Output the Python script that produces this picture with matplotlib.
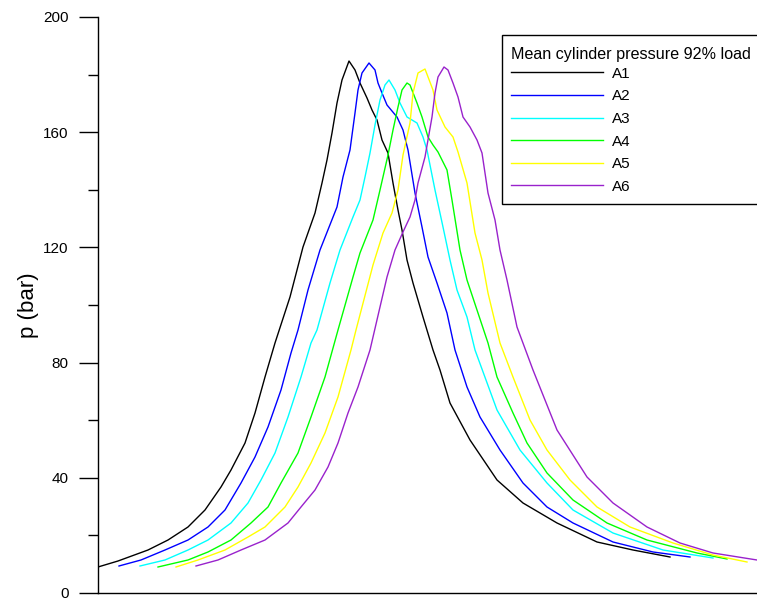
import matplotlib
matplotlib.use("Agg")
import matplotlib.pyplot as plt
from matplotlib.patches import Rectangle
from matplotlib.lines import Line2D

plt.rcParams['font.family'] = ['Liberation Sans', 'DejaVu Sans']

# Crank position (arbitrary units) and pressure (bar)
a1_x = [0, 20, 50, 70, 90, 107, 123, 133, 147, 157, 167, 177, 192, 205, 217, 224, 229, 234, 239, 244,
        251, 257, 262, 269, 274, 279, 284, 290, 295, 300, 304, 309, 315, 325, 335, 342, 352, 372, 399,
        425, 459, 499, 535, 572]
a1_y = [9.03, 11.11, 14.93, 18.40, 22.92, 28.82, 36.81, 42.71, 52.08, 62.50, 75.00, 86.81, 102.78,
        120.14, 131.94, 142.36, 150.35, 159.72, 170.14, 178.13, 184.72, 181.60, 177.08, 171.88, 167.71,
        164.24, 157.29, 152.78, 142.36, 132.99, 126.04, 115.63, 107.64, 95.83, 84.38, 77.43, 65.97,
        53.13, 39.24, 31.25, 24.31, 17.71, 14.93, 12.50]

a2_x = [21, 43, 67, 90, 110, 127, 143, 157, 170, 183, 193, 200, 210, 222, 239, 245, 252, 257, 260, 264,
        271, 277, 280, 284, 289, 299, 305, 310, 317, 324, 330, 339, 349, 357, 369, 382, 402, 425, 449,
        475, 515, 555, 592]
a2_y = [9.38, 11.46, 14.93, 18.40, 22.92, 28.82, 38.19, 47.22, 57.64, 70.49, 83.33, 91.32, 105.21,
        119.10, 134.03, 144.44, 153.82, 166.67, 174.65, 180.56, 184.03, 181.60, 177.08, 173.61, 169.44,
        165.28, 160.76, 153.82, 138.89, 127.08, 116.67, 107.64, 97.22, 84.38, 71.53, 61.11, 49.65,
        38.19, 29.86, 24.31, 17.71, 14.24, 12.50]

a3_x = [42, 67, 90, 110, 133, 150, 163, 177, 190, 203, 213, 219, 232, 242, 255, 262, 267, 272, 277, 282,
        287, 291, 297, 302, 309, 319, 325, 329, 337, 345, 352, 359, 369, 377, 399, 422, 449, 475, 515,
        565, 615]
a3_y = [9.38, 11.46, 14.93, 18.40, 24.31, 31.25, 39.24, 48.61, 61.11, 75.00, 86.81, 91.32, 107.64,
        119.10, 130.56, 136.46, 144.44, 152.78, 162.50, 171.18, 176.39, 178.13, 174.65, 170.14, 165.28,
        163.19, 158.33, 153.82, 139.93, 127.08, 115.63, 105.21, 95.83, 84.38, 63.54, 49.65, 38.19,
        28.82, 20.83, 14.93, 12.15]

a4_x = [60, 90, 110, 133, 153, 170, 183, 200, 213, 227, 240, 255, 262, 275, 282, 290, 295, 300, 304, 309,
        312, 319, 324, 330, 335, 340, 349, 354, 362, 369, 379, 390, 399, 415, 429, 449, 475, 509, 549,
        599, 629]
a4_y = [9.03, 11.46, 14.24, 18.40, 24.31, 29.86, 38.19, 48.61, 61.11, 75.00, 91.32, 109.72, 118.06,
        129.51, 139.93, 152.08, 160.76, 168.75, 174.65, 177.08, 176.39, 170.14, 165.28, 158.33, 155.56,
        153.13, 146.88, 136.46, 119.10, 108.68, 98.26, 86.81, 75.00, 62.50, 52.08, 41.67, 32.29, 24.31,
        18.40, 13.89, 11.81]

a5_x = [78, 100, 127, 150, 167, 187, 200, 213, 227, 240, 253, 258, 275, 285, 294, 300, 305, 312, 315, 320,
        327, 335, 339, 347, 355, 360, 369, 377, 384, 390, 402, 415, 432, 449, 472, 499, 532, 575, 615, 649]
a5_y = [9.03, 11.46, 14.93, 19.44, 22.92, 29.86, 36.81, 45.14, 55.56, 68.06, 84.38, 91.32, 113.89,
        125.00, 131.94, 139.93, 152.08, 163.19, 173.61, 180.56, 181.94, 174.65, 167.71, 161.81, 158.33,
        153.13, 142.36, 125.00, 115.63, 104.17, 86.81, 75.00, 60.07, 49.65, 39.24, 29.86, 22.92, 17.36,
        13.19, 10.76]

a6_x = [98, 120, 143, 167, 190, 203, 217, 230, 240, 250, 260, 272, 282, 289, 297, 305, 312, 317, 320, 327,
        334, 337, 340, 346, 350, 355, 360, 365, 372, 379, 384, 390, 397, 402, 409, 419, 435, 459, 489,
        515, 549, 582, 615, 659]
a6_y = [9.38, 11.46, 14.93, 18.40, 24.31, 29.86, 35.76, 43.75, 52.08, 62.50, 71.53, 84.38, 99.31,
        109.72, 119.10, 125.35, 130.56, 136.46, 142.36, 151.39, 165.28, 173.61, 179.17, 182.64, 181.60,
        177.08, 172.22, 165.28, 161.81, 157.29, 152.78, 138.89, 129.51, 119.10, 108.68, 92.36, 77.43,
        56.60, 40.28, 31.25, 22.92, 17.36, 13.89, 11.46]

labels = ["A1", "A2", "A3", "A4", "A5", "A6"]
colors = ["#000000", "#0000FF", "#00FFFF", "#00FF00", "#FFFF00", "#9922CC"]
legend_title = "Mean cylinder pressure 92% load"
series = [(a1_x, a1_y), (a2_x, a2_y), (a3_x, a3_y), (a4_x, a4_y), (a5_x, a5_y), (a6_x, a6_y)]

W, H = 757, 601
fig = plt.figure(figsize=(W / 100, H / 100), dpi=100)
ax_w_px = 700
ax = fig.add_axes([98 / W, 8 / H, ax_w_px / W, 576 / H])

for (x, y), lab, c in zip(series, labels, colors):
    ax.plot(x, y, color=c, lw=1.0, label=lab)

ax.set_xlim(0, ax_w_px)
ax.set_ylim(0, 200)
ax.set_yticks([0, 40, 80, 120, 160, 200])
ax.set_yticks([20, 60, 100, 140, 180], minor=True)
ax.set_xticks([])
for s in ["top", "right"]:
    ax.spines[s].set_visible(False)
ax.spines["left"].set_linewidth(1.0)
ax.spines["bottom"].set_linewidth(1.0)
ax.tick_params(axis="y", which="major", length=14, width=1.0, labelsize=11, pad=7)
ax.tick_params(axis="y", which="minor", length=7, width=1.0)
ax.set_ylabel("p (bar)", fontsize=16, labelpad=3)


# Legend box (placed in pixel positions of the figure)
def fx(px):
    return px / W


def fy(py):
    return 1 - py / H


fig.add_artist(Rectangle((fx(502), fy(204)), fx(775) - fx(502), fy(35) - fy(204),
                         transform=fig.transFigure, facecolor="white", edgecolor="black",
                         lw=1.0, zorder=5))
fig.text(fx(511), fy(59.5), legend_title, fontsize=11.6, ha="left", va="baseline", zorder=6)
for i, (lab, c) in enumerate(zip(labels, colors)):
    yy = 72.3 + 22.6 * i
    fig.add_artist(Line2D([fx(511), fx(603)], [fy(yy), fy(yy)], transform=fig.transFigure,
                          color=c, lw=1.0, zorder=6))
    fig.text(fx(612), fy(yy + 5.4), lab, fontsize=11, ha="left", va="baseline", zorder=6)

fig.savefig("out.png", dpi=100)
